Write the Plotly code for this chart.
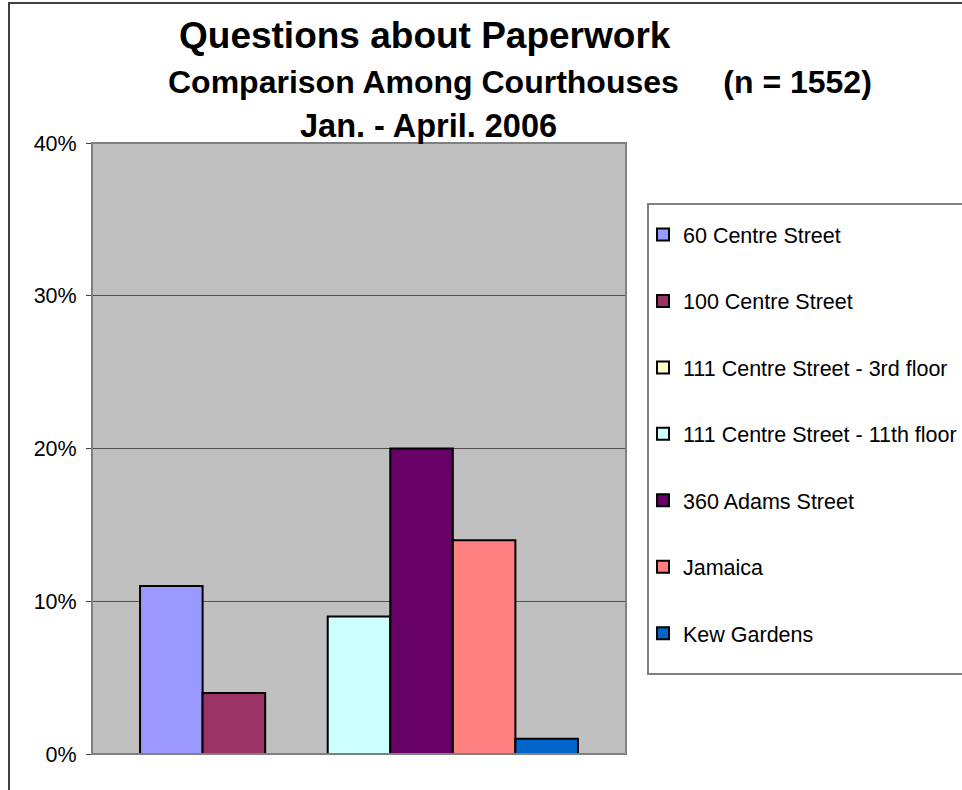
import plotly.graph_objects as go

# ---- data ----
category = ["Paperwork"]
series_names = [
    "60 Centre Street",
    "100 Centre Street",
    "111 Centre Street - 3rd floor",
    "111 Centre Street - 11th floor",
    "360 Adams Street",
    "Jamaica",
    "Kew Gardens",
]
series_values = [0.11, 0.04, 0.0, 0.09, 0.20, 0.14, 0.01]
series_colors = ["#9999FF", "#993366", "#FFFFCC", "#CCFFFF", "#660066", "#FF8080", "#0066CC"]
y_tickvals = [0, 0.1, 0.2, 0.3, 0.4]
y_ticktext = ["0%", "10%", "20%", "30%", "40%"]

title_line1 = "Questions about Paperwork"
title_line2 = "Comparison Among Courthouses" + "\u00a0" * 5 + "(n = 1552)"
title_line3 = "Jan. - April. 2006"

FONT = "Liberation Sans, Arial, sans-serif"

W, H = 962, 790
L, R, T, B = 92, 626, 143, 754  # plot area in px


def px(x):
    return (x - L) / (R - L)


def py(y):
    return (B - y) / (B - T)


fig = go.Figure()
for i, (name, val, col) in enumerate(zip(series_names, series_values, series_colors)):
    fig.add_trace(go.Bar(
        x=category, y=[val], name=name,
        marker=dict(color=col, line=dict(color="black", width=2)),
        legendgroup=f"g{i}",
    ))

fig.update_layout(
    width=W, height=H,
    autosize=False,
    margin=dict(l=L, r=W - R, t=T, b=H - B, pad=0, autoexpand=False),
    paper_bgcolor="white",
    plot_bgcolor="#C0C0C0",
    barmode="group",
    bargap=0.18,
    bargroupgap=0,
    font=dict(family=FONT, color="black", size=21.5),
    showlegend=True,
    legend=dict(
        x=px(643), y=py(214), xanchor="left", yanchor="top",
        font=dict(family=FONT, size=21.5, color="black"),
        bgcolor="rgba(0,0,0,0)", borderwidth=0,
        tracegroupgap=35.5, itemwidth=30,
    ),
    xaxis=dict(showticklabels=False, ticks="", showgrid=False, showline=False, zeroline=False),
    yaxis=dict(
        range=[0, 0.4], tickvals=y_tickvals, ticktext=y_ticktext,
        ticks="outside", ticklen=5, tickcolor="#404040",
        ticklabelstandoff=5,
        showgrid=True, gridcolor="#505050", gridwidth=1,
        showline=True, linecolor="#404040", linewidth=1,
        zeroline=False, tickfont=dict(size=21.5, family=FONT, color="black"),
    ),
    shapes=[
        # outer chart border
        dict(type="rect", xref="paper", yref="paper",
             x0=px(9), x1=px(963), y0=py(792), y1=py(3),
             line=dict(color="#404040", width=2), layer="below"),
        # plot area border
        dict(type="rect", xref="paper", yref="paper",
             x0=0, x1=1, y0=0, y1=1,
             line=dict(color="#808080", width=2), layer="above"),
        # legend box
        dict(type="rect", xref="paper", yref="paper",
             x0=px(648), x1=px(963), y0=py(674), y1=py(204),
             line=dict(color="#808080", width=2), fillcolor="white", layer="below"),
    ],
    annotations=[
        dict(text="<b>" + title_line1 + "</b>", xref="paper", yref="paper",
             x=px(425), y=py(35), xanchor="center", yanchor="middle", showarrow=False,
             font=dict(family=FONT, size=37, color="black")),
        dict(text="<b>" + title_line2 + "</b>", xref="paper", yref="paper",
             x=px(520), y=py(82), xanchor="center", yanchor="middle", showarrow=False,
             font=dict(family=FONT, size=32, color="black")),
        dict(text="<b>" + title_line3 + "</b>", xref="paper", yref="paper",
             x=px(428), y=py(126), xanchor="center", yanchor="middle", showarrow=False,
             font=dict(family=FONT, size=32.5, color="black")),
    ],
)

fig.write_html("out.html", config={"displayModeBar": False},
               post_script="document.body.style.margin='0';")
